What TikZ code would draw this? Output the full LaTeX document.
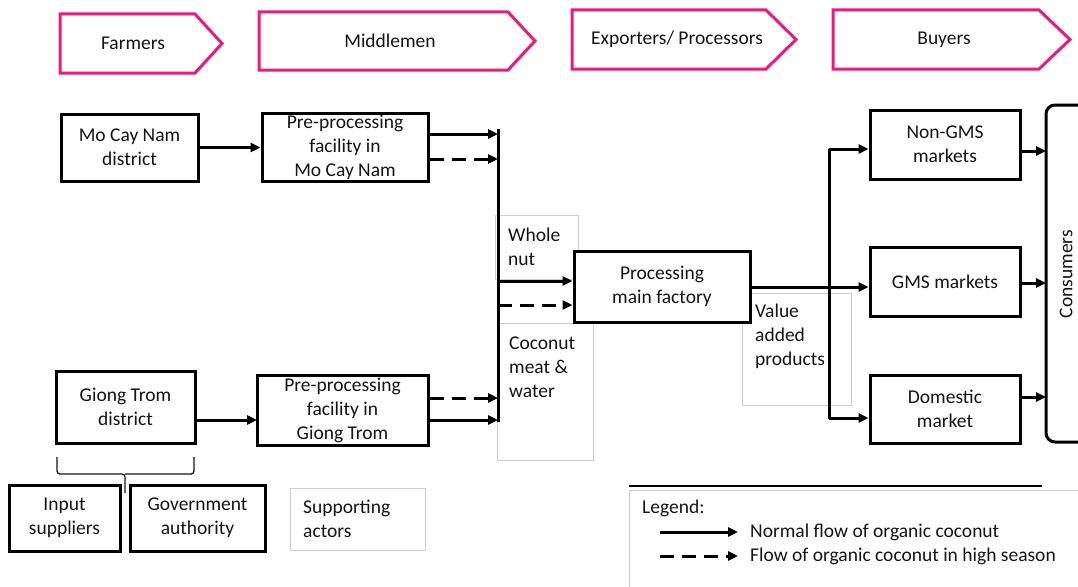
\documentclass[tikz,border=0pt]{standalone}
\usepackage{fontspec}
\setmainfont{Carlito}
\usetikzlibrary{arrows.meta}
\definecolor{headpink}{RGB}{232,28,122}
\definecolor{softgray}{RGB}{205,205,205}
\definecolor{inkcol}{RGB}{20,20,20}
\begin{document}
\begin{tikzpicture}[x=1pt,y=-1pt,
  every node/.style={font=\fontsize{19.5}{24}\selectfont, text=inkcol},
  header/.style={draw=headpink, line width=3pt, line join=miter},
  actor/.style={draw=black, line width=3pt, fill=white, align=center, inner sep=0pt},
  note/.style={draw=softgray, line width=1pt},
  notetext/.style={align=left, anchor=west, inner sep=0pt},
  link/.style={line width=3pt, draw=black},
  flow/.style={link, -{Triangle[length=10pt,width=9pt]}},
  hflow/.style={flow, dash pattern=on 14pt off 8pt},
]
\useasboundingbox (0,0) rectangle (1078,586);
\clip (0,0) rectangle (1078,586);

% stage headers
\draw[header] (60,14) -- (195,14) -- (222,43.5) -- (195,73) -- (60,73) -- cycle;
\node (hFarm) at (133,43.5) {Farmers};
\draw[header] (259,12) -- (508,12) -- (535,41) -- (508,70) -- (259,70) -- cycle;
\node (hMid) at (390,41) {Middlemen};
\draw[header] (572,10) -- (766,10) -- (796,39.5) -- (766,69) -- (572,69) -- cycle;
\node (hExp) at (677,39.5) {Exporters/ Processors};
\draw[header] (833,10) -- (1039,10) -- (1070,39.5) -- (1039,69) -- (833,69) -- cycle;
\node (hBuy) at (944,39.5) {Buyers};

% light annotation boxes
\draw[note] (495,215) rectangle (578,279);
\node[notetext] (tWhole) at (508,247) {Whole\\nut};
\draw[note] (497,323) rectangle (593,460);
\node[notetext] (tMeat) at (509,367) {Coconut\\meat \&\\water};
\draw[note] (742,293) rectangle (851,405);
\node[notetext] (tValue) at (755,336) {Value\\added\\products};
\draw[note] (290,488) rectangle (425,550);
\node[notetext] (tSupport) at (303,519) {Supporting\\actors};

% collecting bar and junction points
\coordinate (barTop) at (498,129);
\coordinate (barBot) at (498,422);
\coordinate (j1) at (498,134);
\coordinate (j2) at (498,159);
\coordinate (j3) at (498,398);
\coordinate (j4) at (498,420);
\coordinate (k1) at (498,281);
\coordinate (k2) at (498,305);
\coordinate (sMid) at (829,287);
\coordinate (sTop) at (829,149);
\coordinate (sBot) at (829,418);
\coordinate (c1) at (1046,151);
\coordinate (c2) at (1046,283);
\coordinate (c3) at (1046,397);
\coordinate (gIn) at (257,420);

% actors
\node[actor, minimum width=137pt, minimum height=67pt] (mcn) at (129.5,147.5) {Mo Cay Nam\\district};
\node[actor, minimum width=166pt, minimum height=68pt] (ppm) at (345,147) {Pre-processing\\facility in\\Mo Cay Nam};
\node[actor, minimum width=139pt, minimum height=72pt] (gtd) at (125.5,407) {Giong Trom\\district};
\node[actor, minimum width=171pt, minimum height=70pt] (ppg) at (342.5,410) {Pre-processing\\facility in\\Giong Trom};
\node[actor, minimum width=176pt, minimum height=71pt] (pmf) at (662,286.5) {Processing\\main factory};
\node[actor, minimum width=150pt, minimum height=69pt] (ngms) at (945,144.5) {Non-GMS\\markets};
\node[actor, minimum width=150pt, minimum height=69pt] (gms) at (945,281.5) {GMS markets};
\node[actor, minimum width=150pt, minimum height=68pt] (dom) at (945,409) {Domestic\\market};
\node[actor, minimum width=111pt, minimum height=66pt] (inp) at (64.5,518) {Input\\suppliers};
\node[actor, minimum width=135pt, minimum height=66pt] (gov) at (197.5,518) {Government\\authority};

% consumers
\draw[line width=3pt, rounded corners=9pt] (1046,105) rectangle (1110,442);
\node[rotate=90] (cons) at (1066,274) {Consumers};

% flows
\draw[flow] (mcn.east) -- (ppm.west |- mcn.east);
\draw[flow] (gtd.east |- gIn) -- (gIn);
\draw[flow] (ppm.east |- j1) -- (j1);
\draw[hflow] (ppm.east |- j2) -- (j2);
\draw[hflow] (ppg.east |- j3) -- (j3);
\draw[flow] (ppg.east |- j4) -- (j4);
\draw[link] (barTop) -- (barBot);
\draw[flow] (k1) -- (pmf.west |- k1);
\draw[hflow] (k2) -- (pmf.west |- k2);
\draw[link] (pmf.east |- sMid) -- (sMid);
\draw[flow] (sMid) -- (gms.west |- sMid);
\draw[flow, line join=round] (sBot) -- (sTop) -- (ngms.west |- sTop);
\draw[flow, line join=round] (sTop) -- (sBot) -- (dom.west |- sBot);
\draw[flow] (ngms.east |- c1) -- (c1);
\draw[flow] (gms.east |- c2) -- (c2);
\draw[flow] (dom.east |- c3) -- (c3);

% brace grouping the supporting actors
\draw[line width=1.3pt, draw=inkcol, rounded corners=3pt] (57,457) -- (57,474) -- (125,474) -- (125,493);
\draw[line width=1.3pt, draw=inkcol, rounded corners=3pt] (194,457) -- (194,474) -- (125,474);

% legend
\draw[line width=2pt] (629,486) -- (1042,486);
\draw[note] (629,490) rectangle (1100,600);
\node[anchor=west, inner sep=0pt] (lgTitle) at (642,508) {Legend:};
\coordinate (la1) at (660,532);
\coordinate (la2) at (738,532);
\coordinate (lb1) at (660,556);
\coordinate (lb2) at (738,556);
\draw[flow] (la1) -- (la2);
\draw[hflow] (lb1) -- (lb2);
\node[anchor=west, inner sep=0pt] (lgNormal) at (750,532) {Normal flow of organic coconut};
\node[anchor=west, inner sep=0pt] (lgHigh) at (750,556) {Flow of organic coconut in high season};
\end{tikzpicture}
\end{document}
